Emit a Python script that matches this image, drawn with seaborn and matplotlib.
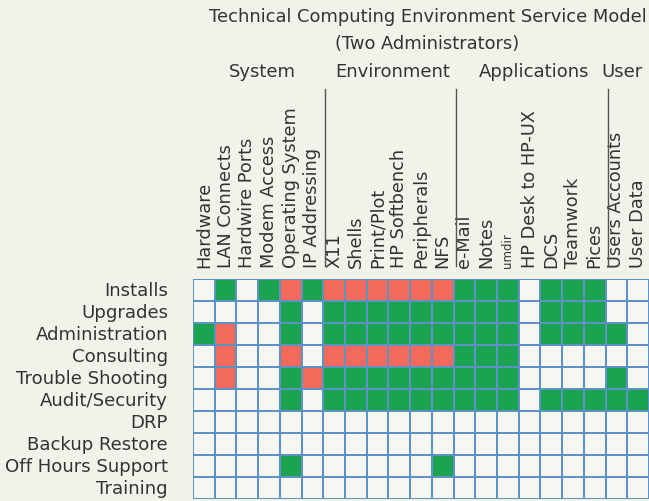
import numpy as np
import pandas as pd
import matplotlib
matplotlib.use("Agg")
import matplotlib.pyplot as plt
import matplotlib.transforms as mtransforms
from matplotlib.colors import ListedColormap
import seaborn as sns

# ---- data ----
columns = ["Hardware", "LAN Connects", "Hardwire Ports", "Modem Access",
           "Operating System", "IP Addressing",
           "X11", "Shells", "Print/Plot", "HP Softbench", "Peripherals", "NFS",
           "e-Mail", "Notes", "umdir", "HP Desk to HP-UX", "DCS", "Teamwork", "Pices",
           "Users Accounts", "User Data"]
rows = ["Installs", "Upgrades", "Administration", "Consulting", "Trouble Shooting",
        "Audit/Security", "DRP", "Backup Restore", "Off Hours Support", "Training"]
groups = ["System", "Environment", "Applications", "User"]
group_sizes = [6, 6, 7, 2]

# 0 = none, 1 = green, 2 = red
installs      = [0,1,0,1,2,1,2,2,2,2,2,2,1,1,1,0,1,1,1,0,0]
upgrades      = [0,0,0,0,1,0,1,1,1,1,1,1,1,1,1,0,1,1,1,0,0]
administration= [1,2,0,0,1,0,1,1,1,1,1,1,1,1,1,0,1,1,1,1,0]
consulting    = [0,2,0,0,2,0,2,2,2,2,2,2,1,1,1,0,0,0,0,0,0]
trouble       = [0,2,0,0,1,2,1,1,1,1,1,1,1,1,1,0,0,0,0,1,0]
audit         = [0,0,0,0,1,0,1,1,1,1,1,1,1,1,1,0,1,1,1,1,1]
drp           = [0]*21
backup        = [0]*21
offhours      = [0,0,0,0,1,0,0,0,0,0,0,1,0,0,0,0,0,0,0,0,0]
training      = [0]*21

df = pd.DataFrame([installs, upgrades, administration, consulting, trouble,
                   audit, drp, backup, offhours, training],
                  index=rows, columns=columns)

BG = "#f1f3ea"
EMPTY = "#f5f7f0"
GREEN = "#1ca350"
RED = "#f26a5a"
GRID = "#5d92c6"
TXT = "#333333"

W, H = 649, 502
fig = plt.figure(figsize=(W/100, H/100), dpi=100, facecolor=BG)
ax = fig.add_axes([193/W, 1 - 500/H, 456/W, 220/H])
ax.set_facecolor(BG)

cmap = ListedColormap([EMPTY, GREEN, RED])
sns.heatmap(df, ax=ax, cmap=cmap, vmin=-0.5, vmax=2.5, cbar=False,
            linewidths=1.3, linecolor=GRID, square=False)

FONT = "DejaVu Sans"
ax.xaxis.tick_top()
ax.set_xticks(np.arange(len(columns)) + 0.5)
ax.set_xticklabels(columns, rotation=90, fontsize=12.8, color=TXT, family=FONT,
                   ha="center", va="bottom")
for lbl in ax.get_xticklabels():
    if lbl.get_text() == "umdir":
        lbl.set_fontsize(8.5)
ax.set_yticks(np.arange(len(rows)) + 0.5)
ax.set_yticklabels(rows, rotation=0, fontsize=13.1, color=TXT, family=FONT)
ax.tick_params(axis="x", length=0, pad=9)
ax.tick_params(axis="y", length=0, pad=18)
ax.set_xlabel("")
ax.set_ylabel("")
for s in ax.spines.values():
    s.set_visible(False)

# group separators and headers
trans = mtransforms.blended_transform_factory(ax.transData, fig.transFigure)
edges = np.cumsum(group_sizes)
for e in edges[:-1]:
    ax.plot([e + 0.1, e + 0.1], [1 - 90/H, 1 - 267/H], color="#555555",
            lw=1.0, transform=trans, clip_on=False)
starts = np.concatenate([[0], edges[:-1]])
for g, s0, n in zip(groups, starts, group_sizes):
    if g == "User":
        ax.text(s0 - 0.2, 1 - 72/H, g, transform=trans, ha="left", va="center",
                fontsize=13, color=TXT, family=FONT)
    else:
        ax.text(s0 + n/2 + 0.2, 1 - 72/H, g, transform=trans, ha="center", va="center",
                fontsize=13, color=TXT, family=FONT)

fig.text(428/W, 1 - 17/H, "Technical Computing Environment Service Model",
         ha="center", va="center", fontsize=12.9, color=TXT, family=FONT)
fig.text(427/W, 1 - 44/H, "(Two Administrators)",
         ha="center", va="center", fontsize=12.9, color=TXT, family=FONT)

fig.savefig("out.png", dpi=100, facecolor=BG)
